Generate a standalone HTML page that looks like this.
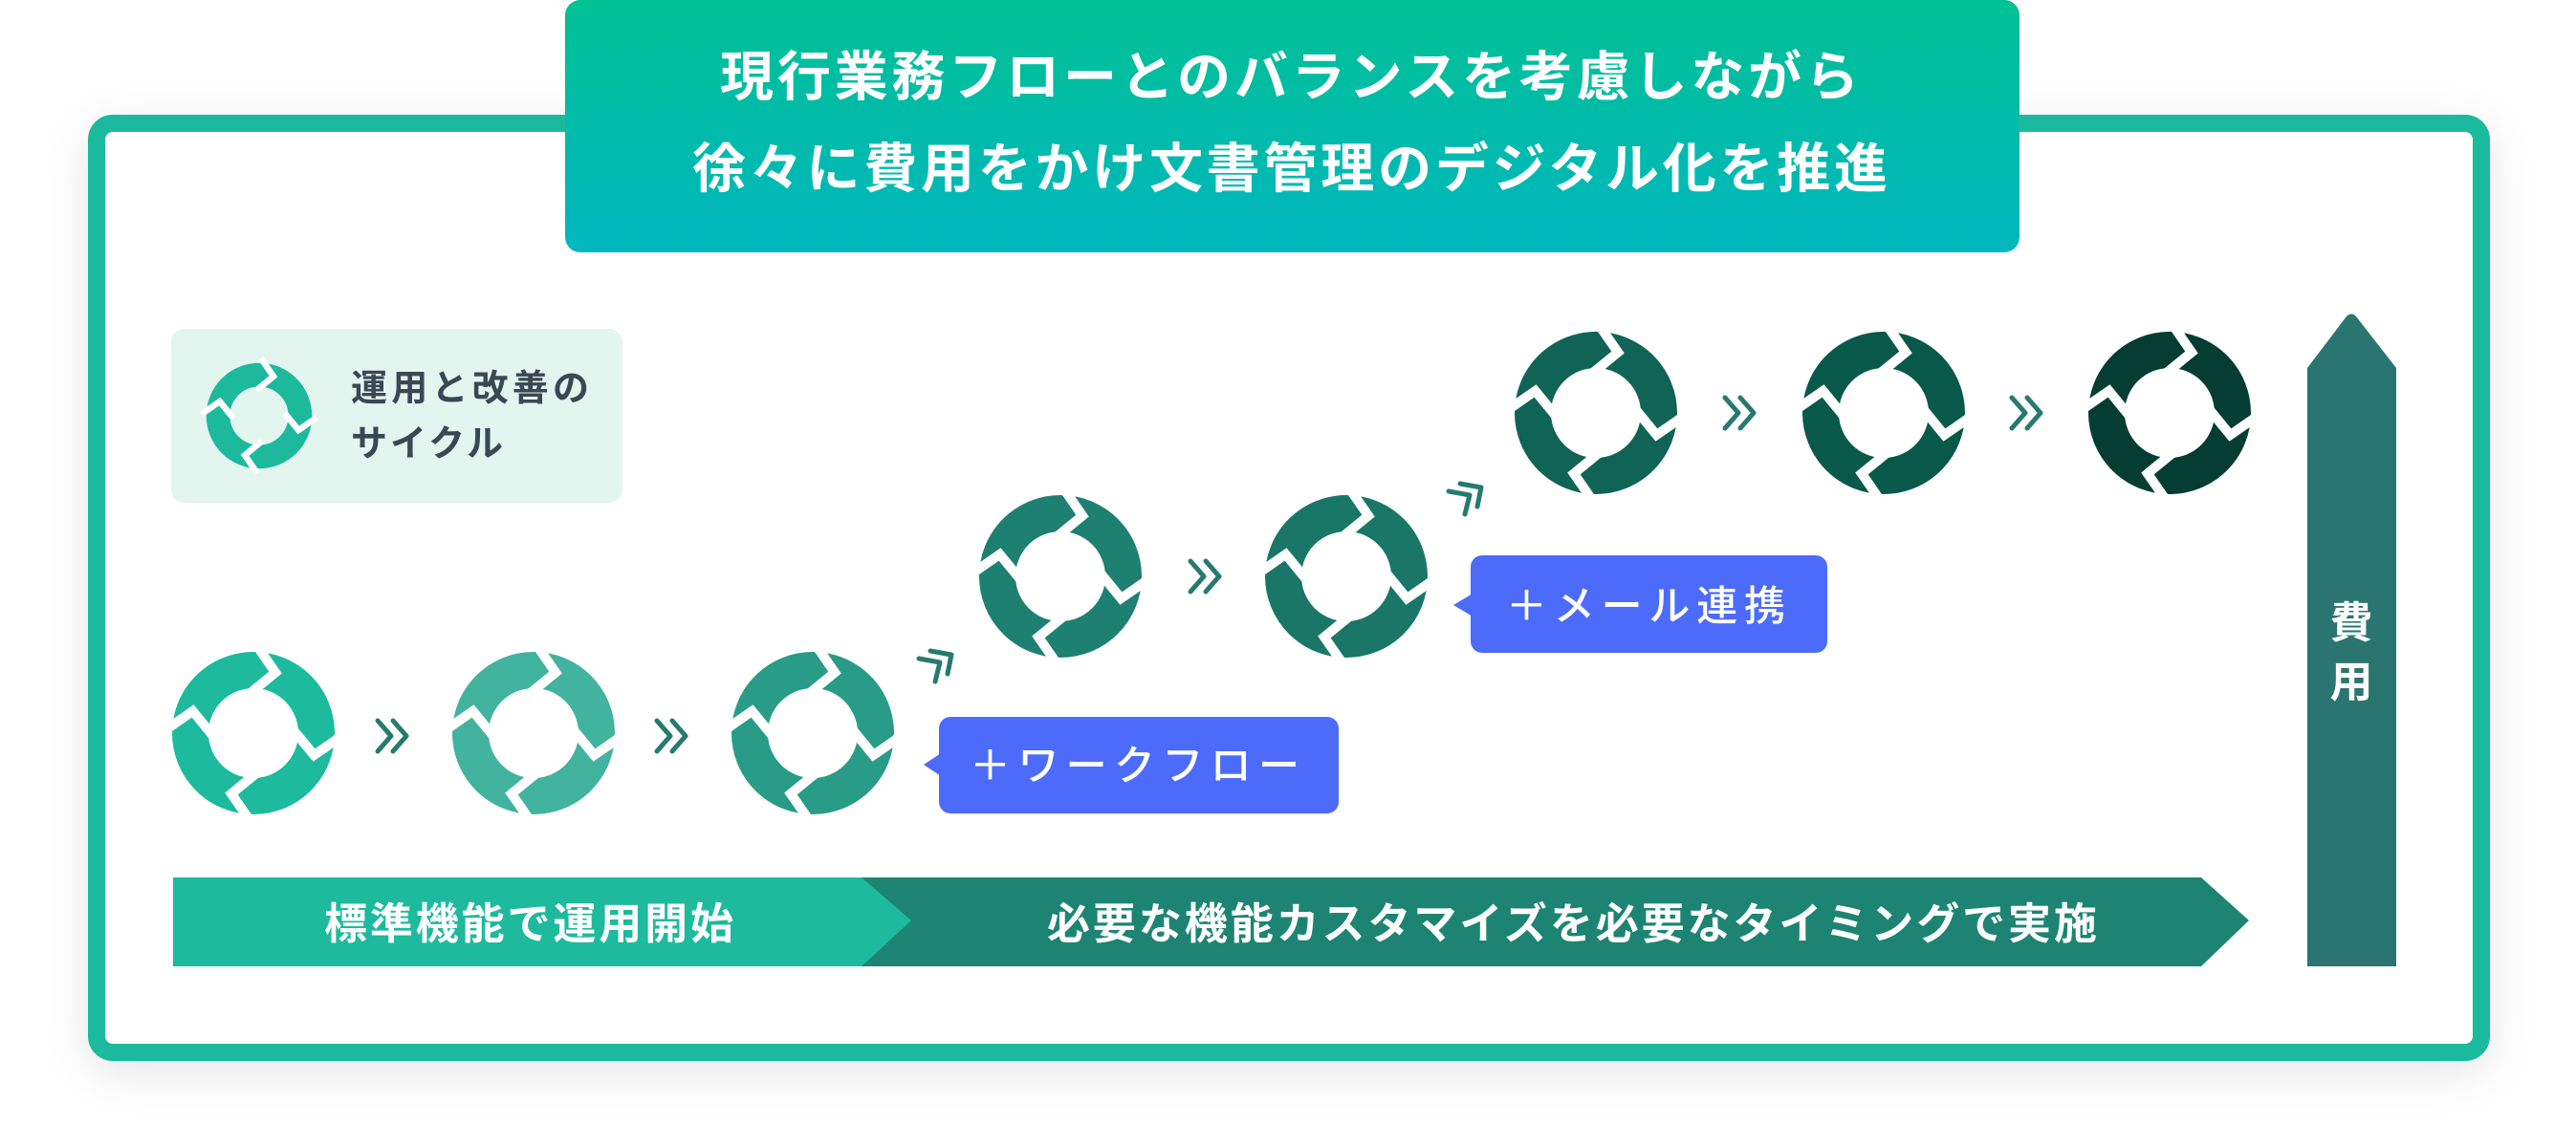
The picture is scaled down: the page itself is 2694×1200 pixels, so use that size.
<!DOCTYPE html>
<html><head><meta charset="utf-8"><style>
html,body{margin:0;padding:0;background:#fff;}
body{width:2694px;height:1200px;overflow:hidden;position:relative;}
.frame{position:absolute;left:92px;top:120px;width:2476px;height:954px;border:18px solid #1BBA9F;border-radius:26px;background:#fff;box-shadow:0 12px 50px rgba(0,0,0,0.10);}
svg{position:absolute;left:0;top:0;}
text{font-family:"Liberation Sans","Noto Sans CJK JP",sans-serif;}
</style></head><body>
<div class="frame"></div>
<svg width="2694" height="1200" viewBox="0 0 2694 1200">
<defs>
<linearGradient id="hg" x1="0" y1="0" x2="0" y2="1">
<stop offset="0" stop-color="#00C094"/><stop offset="1" stop-color="#00B7BF"/>
</linearGradient>
<g id="cyc">
<circle cx="0" cy="0" r="66" fill="none" stroke="currentColor" stroke-width="38"/>
<g fill="none" stroke="#fff" stroke-width="10" stroke-linejoin="miter" transform="rotate(8)">
<polyline id="chev" points="-10,-92 14,-66 -10,-40"/>
<use href="#chev" transform="rotate(90)"/>
<use href="#chev" transform="rotate(180)"/>
<use href="#chev" transform="rotate(270)"/>
</g>
</g>
<g id="dch" fill="none" stroke="#267A6E" stroke-width="5" stroke-linecap="round" stroke-linejoin="round">
<polyline points="-17,-16 -3,0 -17,16"/>
<polyline points="-1,-16 13,0 -1,16"/>
</g>
<g id="diag" fill="none" stroke="#267A6E" stroke-width="5" stroke-linecap="round" stroke-linejoin="round">
<polyline points="-13,-14 9,-10 5,10"/>
<polyline points="-25,-6 -3,-2 -8,18"/>
</g>
</defs>

<rect x="591" y="0" width="1521" height="264" rx="16" fill="url(#hg)"/>
<text x="753" y="100" font-size="56" font-weight="700" fill="#fff" textLength="1191" lengthAdjust="spacing">現行業務フローとのバランスを考慮しながら</text>
<text x="724" y="196" font-size="56" font-weight="700" fill="#fff" textLength="1250" lengthAdjust="spacing">徐々に費用をかけ文書管理のデジタル化を推進</text>

<rect x="179" y="344" width="472" height="182" rx="14" fill="#E3F5EF"/>
<use href="#cyc" transform="translate(271,435) scale(0.65)" color="#1DB99D"/>
<text x="367" y="419" font-size="38" font-weight="700" fill="#3A4855" textLength="249" lengthAdjust="spacing">運用と改善の</text>
<text x="367" y="477" font-size="38" font-weight="700" fill="#3A4855" textLength="159" lengthAdjust="spacing">サイクル</text>

<use href="#cyc" transform="translate(265,767)" color="#1DBA9E"/>
<use href="#cyc" transform="translate(558,767)" color="#41B39E"/>
<use href="#cyc" transform="translate(850,767)" color="#289C86"/>
<use href="#cyc" transform="translate(1109,603)" color="#1E8070"/>
<use href="#cyc" transform="translate(1408,603)" color="#1A7767"/>
<use href="#cyc" transform="translate(1669,432)" color="#0F6456"/>
<use href="#cyc" transform="translate(1970,432)" color="#09594B"/>
<use href="#cyc" transform="translate(2269,432)" color="#053D33"/>

<use href="#dch" transform="translate(412,770)"/>
<use href="#dch" transform="translate(704,770)"/>
<use href="#dch" transform="translate(1262,603)"/>
<use href="#dch" transform="translate(1821,432)"/>
<use href="#dch" transform="translate(2121,432)"/>
<use href="#diag" transform="translate(986,695)"/>
<use href="#diag" transform="translate(1540,520)"/>

<rect x="982" y="750" width="418" height="101" rx="12" fill="#4D6BFA"/>
<polygon points="966,800 984,788 984,812" fill="#4D6BFA"/>
<text x="1014" y="816" font-size="43" font-weight="500" fill="#fff" textLength="345" lengthAdjust="spacing">＋ワークフロー</text>
<rect x="1538" y="581" width="373" height="102" rx="12" fill="#4D6BFA"/>
<polygon points="1520,633 1540,621 1540,645" fill="#4D6BFA"/>
<text x="1575" y="649" font-size="43" font-weight="500" fill="#fff" textLength="292" lengthAdjust="spacing">＋メール連携</text>

<path d="M895,918 L2302,918 L2352,963 L2302,1011 L895,1011 Z" fill="#1D8473"/>
<path d="M181,918 L901,918 L953,963 L901,1011 L181,1011 Z" fill="#1DBA9E"/>
<text x="339" y="982" font-size="45" font-weight="700" fill="#fff" textLength="428" lengthAdjust="spacing">標準機能で運用開始</text>
<text x="1095" y="982" font-size="45" font-weight="700" fill="#fff" textLength="1098" lengthAdjust="spacing">必要な機能カスタマイズを必要なタイミングで実施</text>

<path d="M2413,385 L2454,331 Q2459,326 2464,331 L2506,385 L2506,1011 L2413,1011 Z" fill="#2A756F"/>
<text x="2459" y="667" font-size="45" font-weight="700" fill="#fff" text-anchor="middle">費</text>
<text x="2459" y="729" font-size="45" font-weight="700" fill="#fff" text-anchor="middle">用</text>
</svg>
</body></html>
